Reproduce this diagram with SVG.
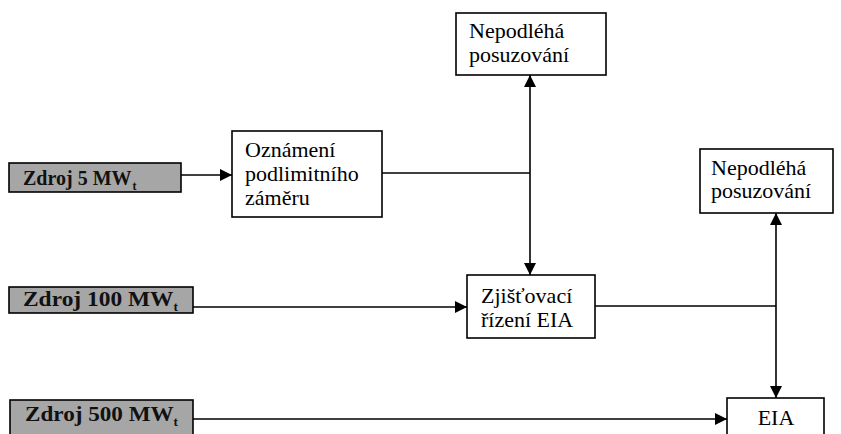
<svg xmlns="http://www.w3.org/2000/svg" width="841" height="434" viewBox="0 0 841 434">
<defs>
<style>
.box{fill:#fff;stroke:#000;stroke-width:1.6}
.src{fill:#a6a6a6;stroke:#000;stroke-width:1.6}
.t{font-size:22px;fill:#000}
.b{font-size:21px;font-weight:bold;fill:#111}
.sub{font-size:12px}
.ln{fill:none;stroke:#000;stroke-width:1.6}
</style>
<marker id="ah" viewBox="0 0 12 12" refX="12" refY="6" markerWidth="12" markerHeight="12" markerUnits="userSpaceOnUse" orient="auto">
<path d="M0,0 L12,6 L0,12 Z" fill="#000"/>
</marker>
</defs>
<rect width="841" height="434" fill="#fff"/>
<g font-family="'Liberation Serif', 'Times New Roman', 'DejaVu Serif', serif">
<g id="zdroj5">
<rect class="src" x="9" y="163" width="172" height="29"/>
<text class="b" x="23" y="185" style="font-size:20px">Zdroj 5 MW<tspan class="sub" dy="5" dx="1">t</tspan></text>
</g>
<g id="zdroj100">
<rect class="src" x="9" y="287" width="184" height="26"/>
<text class="b" x="23" y="306" textLength="155" lengthAdjust="spacingAndGlyphs">Zdroj 100 MW<tspan class="sub" dy="5">t</tspan></text>
</g>
<g id="zdroj500">
<rect class="src" x="10" y="400" width="183" height="40"/>
<text class="b" x="25" y="421" textLength="153" lengthAdjust="spacingAndGlyphs">Zdroj 500 MW<tspan class="sub" dy="5">t</tspan></text>
</g>

<g id="oznameni">
<rect class="box" x="232" y="131" width="150" height="86"/>
<text class="t" x="245" y="157">Oznámení</text>
<text class="t" x="245" y="181">podlimitního</text>
<text class="t" x="245" y="205">záměru</text>
</g>
<g id="nepodleha1">
<rect class="box" x="456" y="13" width="150" height="62"/>
<text class="t" x="469" y="38">Nepodléhá</text>
<text class="t" x="469" y="62">posuzování</text>
</g>
<g id="zjistovaci">
<rect class="box" x="467" y="275" width="128" height="63"/>
<text class="t" x="481" y="303">Zjišťovací</text>
<text class="t" x="481" y="327">řízení EIA</text>
</g>
<g id="nepodleha2">
<rect class="box" x="700" y="149" width="133" height="64"/>
<text class="t" x="711" y="175">Nepodléhá</text>
<text class="t" x="711" y="198">posuzování</text>
</g>
<g id="eia">
<rect class="box" x="727" y="398" width="97" height="45"/>
<text class="t" x="776" y="425" text-anchor="middle">EIA</text>
</g>
</g>
<g id="connectors">
<line class="ln" x1="181" y1="175" x2="232" y2="175" marker-end="url(#ah)"/>
<line class="ln" x1="382" y1="173" x2="530" y2="173"/>
<line class="ln" x1="530" y1="173" x2="530" y2="75" marker-end="url(#ah)"/>
<line class="ln" x1="530" y1="173" x2="530" y2="275" marker-end="url(#ah)"/>
<line class="ln" x1="193" y1="307" x2="467" y2="307" marker-end="url(#ah)"/>
<line class="ln" x1="595" y1="306" x2="776" y2="306"/>
<line class="ln" x1="776" y1="306" x2="776" y2="213" marker-end="url(#ah)"/>
<line class="ln" x1="776" y1="306" x2="776" y2="398" marker-end="url(#ah)"/>
<line class="ln" x1="193" y1="419" x2="727" y2="419" marker-end="url(#ah)"/>
</g>
</svg>
